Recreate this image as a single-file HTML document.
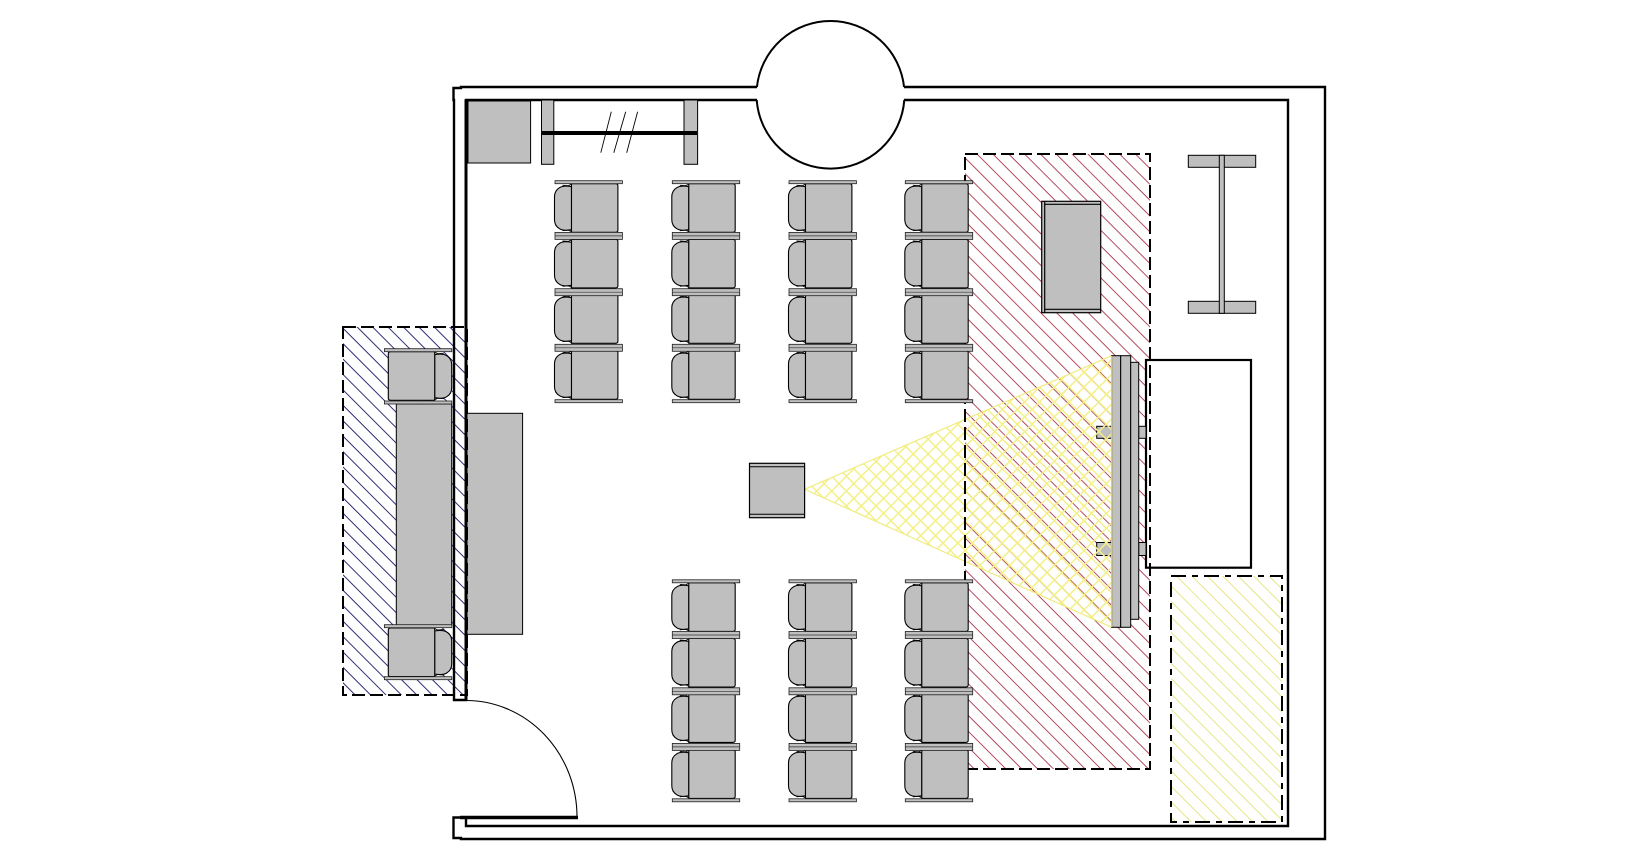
<!DOCTYPE html>
<html>
<head>
<meta charset="utf-8">
<title>Room floor plan</title>
<style>
html,body{margin:0;padding:0;background:#fff;width:1650px;height:860px;overflow:hidden}
svg{display:block}
</style>
</head>
<body>
<svg xmlns="http://www.w3.org/2000/svg" width="1650" height="860" viewBox="0 0 1650 860">
<defs>
<pattern id="hBlue" width="10.9" height="10.9" patternUnits="userSpaceOnUse" patternTransform="rotate(45)">
<rect width="10.9" height="0.9" fill="#181868"/></pattern>
<pattern id="hRed" width="11.2" height="11.2" patternUnits="userSpaceOnUse" patternTransform="rotate(45)">
<rect width="11.2" height="0.8" fill="#a02038"/></pattern>
<pattern id="hYel" width="10.9" height="10.9" patternUnits="userSpaceOnUse" patternTransform="rotate(45)">
<rect width="10.9" height="1" fill="#e6e688"/></pattern>
<pattern id="cA" width="10.5" height="10.5" patternUnits="userSpaceOnUse" patternTransform="rotate(45)">
<rect width="10.5" height="1.5" fill="#f4f088"/></pattern>
<pattern id="cB" width="10.5" height="10.5" patternUnits="userSpaceOnUse" patternTransform="rotate(-45)">
<rect width="10.5" height="1.5" fill="#f4f088"/></pattern>

<g id="chair" stroke="#000" stroke-width="1.1" fill="#bfbfbf">
<path d="M17 3 Q9 1.5 5 4 Q0 7 0 13 V36 Q0 42 5 45 Q9 47.5 17 46 Z"/>
<path d="M17 0.5 L14 2 L8 1.6 M17 48 L14 46.5 L8 47" fill="none" stroke-width="0.9"/>
<path d="M17 0 H61 Q63.4 0 63.4 2 V46.6 Q63.4 48.6 61 48.6 H17 Z"/>
</g>
<g id="plank"><rect x="0" y="0" width="67.4" height="3" fill="#bfbfbf" stroke="#202020" stroke-width="0.8"/></g>
<g id="dplank"><rect x="0" y="0" width="67.4" height="7" fill="#bfbfbf" stroke="#202020" stroke-width="0.8"/><path d="M0 3.5 H67.4" stroke="#303030" stroke-width="0.7"/></g>
<g id="col">
<use href="#chair" x="-0.5" y="3"/>
<use href="#chair" x="-0.5" y="58.6"/>
<use href="#chair" x="-0.5" y="114"/>
<use href="#chair" x="-0.5" y="170"/>
<use href="#plank" y="0"/>
<use href="#dplank" y="51.7"/>
<use href="#dplank" y="108"/>
<use href="#dplank" y="163.6"/>
<use href="#plank" y="219"/>
</g>
</defs>

<rect width="1650" height="860" fill="#fff"/>

<!-- blue hatch zone -->
<rect x="343" y="327" width="124" height="368" fill="url(#hBlue)"/>

<!-- red hatch zone -->
<rect x="965" y="154" width="185" height="615" fill="url(#hRed)"/>

<!-- yellow hatch zone -->
<rect x="1171" y="576" width="111" height="246" fill="url(#hYel)"/>

<!-- walls -->
<g fill="none" stroke="#000" stroke-width="2.4">
<path d="M757 87 H461 V88 H453.5 V100 H454 V700 H466 V100 H757" stroke-linejoin="miter"/>
<path d="M904 87 H1325 V839 H461 V838 H453.5 V817.5 H466 V826 H1288 V100 H904"/>
<path d="M756.93 87 A74 74 0 0 1 904.07 87 M756.7 100 A74 74 0 0 0 904.3 100" stroke-width="2"/>
</g>
<path d="M466 99.5 V700" stroke="#000" stroke-width="3" fill="none"/>
<path d="M460 817.5 H578" stroke="#000" stroke-width="3.4" fill="none"/>
<path d="M466 700.5 A111 116.5 0 0 1 577 817" stroke="#000" stroke-width="1.1" fill="none"/>

<!-- top-left furniture -->
<g fill="#bfbfbf" stroke="#000" stroke-width="1">
<rect x="468" y="101" width="62.6" height="62"/>
<rect x="541.5" y="100" width="12.3" height="64.3"/>
<rect x="684" y="100" width="13.6" height="64.3"/>
</g>
<path d="M541 133 H697" stroke="#000" stroke-width="4"/>
<path d="M611.3 111.7 L600.8 152.7 M625.7 111.7 L613.8 152.7 M637.6 111.7 L626.7 152.7" stroke="#000" stroke-width="0.9" fill="none"/>

<!-- seating rows -->
<use href="#col" x="555" y="180.7"/>
<use href="#col" x="672.3" y="180.7"/>
<use href="#col" x="789" y="180.7"/>
<use href="#col" x="672.3" y="579.8"/>
<use href="#col" x="789" y="579.8"/>

<!-- left sofa set -->
<rect x="396.3" y="404" width="55.4" height="221" fill="#bfbfbf" stroke="#000" stroke-width="1"/>
<use href="#chair" transform="translate(451.7 351.7) scale(-1 1)"/>
<use href="#plank" x="384.4" y="348.7"/>
<use href="#plank" x="384.4" y="401"/>
<use href="#chair" transform="translate(451.7 628) scale(-1 1)"/>
<use href="#plank" x="384.4" y="624.7"/>
<use href="#plank" x="384.4" y="676.7"/>

<!-- table right of wall -->
<rect x="467" y="413.3" width="55.6" height="221" fill="#bfbfbf" stroke="#000" stroke-width="1"/>

<!-- red zone table -->
<g fill="#bfbfbf" stroke="#000" stroke-width="1.2">
<rect x="1041.7" y="201.3" width="59" height="111.4"/>
<path d="M1044.7 204.3 H1100.7 M1044.7 201.3 V312.7 M1044.7 309.3 H1100.7" fill="none"/>
</g>

<!-- I-shaped bench -->
<g fill="#bfbfbf" stroke="#000" stroke-width="1">
<rect x="1188.3" y="155.3" width="67.4" height="12"/>
<rect x="1188.3" y="301.3" width="67.4" height="12"/>
<rect x="1219.3" y="155.3" width="5" height="158"/>
</g>

<!-- white cabinet -->
<rect x="1146" y="360" width="105" height="207.7" fill="#fff" stroke="#000" stroke-width="2.2"/>

<!-- screen stubs -->
<g fill="#bfbfbf" stroke="#000" stroke-width="1">
<rect x="1096.7" y="426.3" width="15" height="12"/>
<rect x="1096.7" y="542.5" width="15" height="13"/>
<rect x="1138.7" y="426.3" width="7.3" height="12"/>
<rect x="1138.7" y="542.5" width="7.3" height="13"/>
</g>

<!-- projector cone -->
<polygon points="804.6,489.3 1111.7,355.7 1111.7,627.3" fill="url(#cA)"/>
<polygon points="804.6,489.3 1111.7,355.7 1111.7,627.3" fill="url(#cB)" stroke="#f0ec80" stroke-width="1.2"/>

<!-- screen -->
<g fill="#bfbfbf" stroke="#000" stroke-width="1">
<rect x="1111.7" y="355.7" width="9" height="271.6"/>
<rect x="1120.7" y="355.7" width="10" height="271.6"/>
<rect x="1130.7" y="362.3" width="8" height="257"/>
</g>
<path d="M1111.7 356 V627" stroke="#f2ee70" stroke-width="1"/>

<!-- projector -->
<rect x="749.5" y="463.3" width="55.1" height="54.4" fill="#bfbfbf" stroke="#000" stroke-width="1.2"/>
<path d="M749.5 466.7 H804.6 M749.5 514.3 H804.6" stroke="#000" stroke-width="1" fill="none"/>

<!-- dashed outlines -->
<g fill="none" stroke="#000" stroke-width="2">
<rect x="343" y="327" width="124" height="368" stroke-dasharray="13 5"/>
<rect x="965" y="154" width="185" height="615" stroke-dasharray="13 5"/>
<rect x="1171" y="576" width="111" height="246" stroke-dasharray="15 6 6 6"/>
</g>
<!-- seats of col 4 over the red dashed edge -->
<use href="#col" x="905.3" y="180.7"/>
<use href="#col" x="905.3" y="579.8"/>
</svg>
</body>
</html>
